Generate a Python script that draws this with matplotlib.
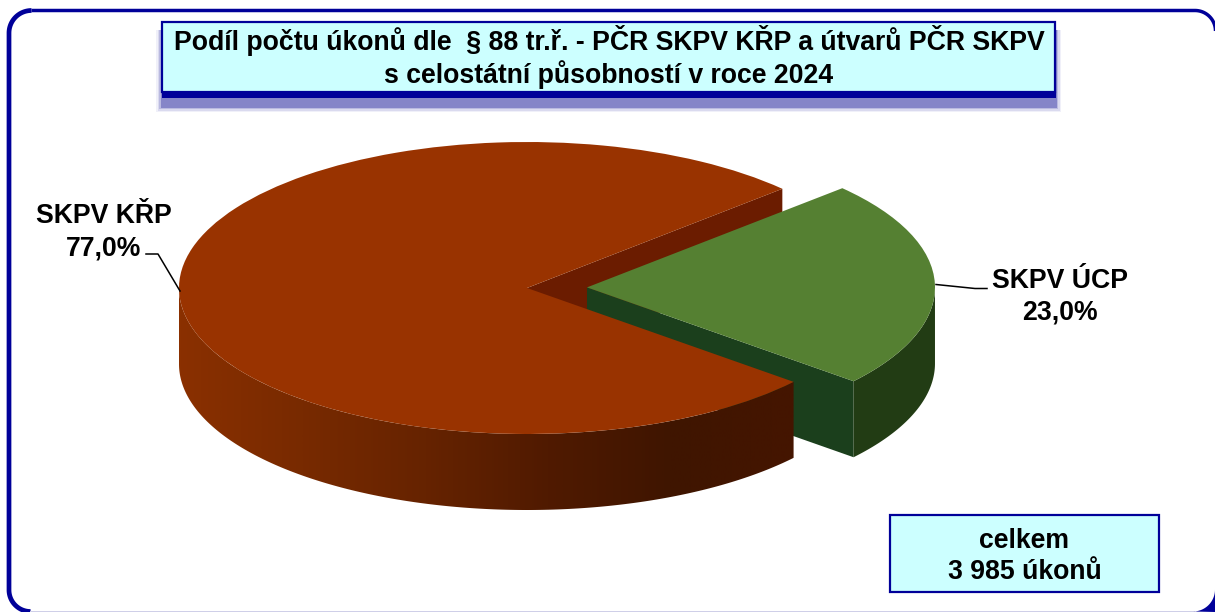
import numpy as np
import matplotlib
matplotlib.use("Agg")
import matplotlib.pyplot as plt
from matplotlib.patches import Polygon, Rectangle
from matplotlib.colors import LinearSegmentedColormap

plt.rcParams['font.family'] = ['Liberation Sans', 'DejaVu Sans']

# ---- data ----
categories = ["SKPV ÚCP", "SKPV KŘP"]
shares = [23.0, 77.0]
share_labels = ["23,0%", "77,0%"]
title_lines = ["Podíl počtu úkonů dle  § 88 tr.ř. - PČR SKPV KŘP a útvarů PČR SKPV",
               "s celostátní působností v roce 2024"]
total_lines = ["celkem", "3 985 úkonů"]

W, H = 1215, 612
NAVY = "#000099"
CYAN = "#CCFFFF"
FS = 19.2

# ---- pie geometry (pixels) ----
cx, cy, rx, ry, depth_px, explode_px = 527, 288, 348, 146, 76, 60
start_angle = -40

fig = plt.figure(figsize=(W / 100, H / 100), dpi=100, facecolor="white")
ax = fig.add_axes([0, 0, 1, 1])
wedges, _ = ax.pie(shares, startangle=start_angle, radius=1,
                   explode=[explode_px / rx, 0],
                   colors=["#558032", "#993300"],
                   wedgeprops=dict(linewidth=0))
ax.set_aspect("auto")
ax.axis("off")

depth = depth_px / ry
green, red = wedges
green.set_zorder(5)
red.set_zorder(7)
gc = np.array(green.center)
rc = np.array(red.center)


def rim(center, a1, a2, n=200):
    t = np.radians(np.linspace(a1, a2, n))
    return np.column_stack([center[0] + np.cos(t), center[1] + np.sin(t)])


def wall(center, a1, a2):
    top = rim(center, a1, a2)
    bottom = top - [0, depth]
    return np.vstack([top, bottom[::-1]])


def cut_face(center, a):
    c = np.array(center)
    p = rim(center, a, a, 1)[0]
    return np.array([c, p, p - [0, depth], c - [0, depth]])


# cut faces
ax.add_patch(Polygon(cut_face(rc, green.theta2), closed=True, fc="#6B1C00", ec="none", zorder=1))
ax.add_patch(Polygon(cut_face(gc, green.theta1), closed=True, fc="#1B3F1C", ec="none", zorder=2))
# green outer wall
ax.add_patch(Polygon(wall(gc, green.theta1, 0), closed=True, fc="#223C14", ec="none", zorder=3))

# red outer wall with horizontal gradient, clipped to the wall outline
red_wall = Polygon(wall(rc, 180, green.theta1 + 360), closed=True, fc="none", ec="none",
                   transform=ax.transData)
ax.add_patch(red_wall)
cmap = LinearSegmentedColormap.from_list("wall", ["#8A3000", "#782A00", "#662300", "#501A00", "#3F1500", "#451500"])
grad = np.linspace(0, 1, 512).reshape(1, -1)
im = ax.imshow(grad, cmap=cmap, aspect="auto", zorder=6, interpolation="bilinear",
               extent=(rc[0] - 1, rc[0] + np.cos(np.radians(green.theta1)), rc[1] - 2, rc[1] + 1))
im.set_clip_path(red_wall)
ax.set_xlim(-cx / rx, (W - cx) / rx)
ax.set_ylim((cy - H) / ry, cy / ry)
ax.set_aspect("auto")

# ---- overlay in pixel coordinates ----
ov = fig.add_axes([0, 0, 1, 1], facecolor="none")
ov.set_xlim(0, W)
ov.set_ylim(H, 0)
ov.axis("off")


def arc(xc, yc, r, a1, a2, n=40):
    t = np.radians(np.linspace(a1, a2, n))
    return xc + r * np.cos(t), yc + r * np.sin(t)


# outer rounded frame, its right and bottom sides lie outside the picture
tlx, tly = arc(31.5, 33, 22.5, 180, 270)     # top left
trx, try_ = arc(1195, 31, 20.5, 270, 360)    # top right
blx, bly = arc(30.5, 590, 21.5, 90, 180)     # bottom left
ov.plot(np.r_[blx, tlx], np.r_[bly, tly], color=NAVY, lw=3.4, solid_capstyle="butt",
        solid_joinstyle="round", zorder=1)
ov.plot(np.r_[tlx[-1], trx], np.r_[tly[-1], try_], color=NAVY, lw=2.5, solid_capstyle="butt",
        solid_joinstyle="round", zorder=1)
ov.add_patch(Rectangle((30, 611), 1165, 1, fc="#CFCFE8", ec="none", zorder=1))
# bottom right corner: solid outside of the curve
bx, by = arc(1193, 589.5, 22, 90, 0)
ov.add_patch(Polygon(np.column_stack([np.r_[bx, 1215], np.r_[by, 612]]), closed=True,
                     fc=NAVY, ec="none", zorder=1))

# title box with blurred shadow
bx0, by0, bx1, by1 = 162, 22, 1055, 92
for grow, col in [(7, "#F0F0F9"), (5.5, "#DADAEF"), (4, "#BABAE0"), (2.5, "#8585C8")]:
    ov.add_patch(Rectangle((bx0 - grow + 1, by0 + 8), bx1 - bx0 + 2 * grow - 1 - 1, by1 - by0 + 5 + grow,
                           fc=col, ec="none", zorder=2))
ov.add_patch(Rectangle((bx0, by1 - 5), bx1 - bx0 + 1, 11, fc=NAVY, ec="none", zorder=3))
ov.add_patch(Rectangle((bx0, by0), bx1 - bx0, by1 - by0, fc=CYAN, ec=NAVY, lw=1.6, zorder=4))
ov.text((bx0 + bx1) / 2 + 0.5, 50, title_lines[0], ha="center", va="baseline", fontsize=FS,
        fontweight="bold", color="black", zorder=5)
ov.text((bx0 + bx1) / 2 + 0.5, 83, title_lines[1], ha="center", va="baseline", fontsize=FS,
        fontweight="bold", color="black", zorder=5)

# total box
ov.add_patch(Rectangle((890, 515), 269, 77, fc=CYAN, ec=NAVY, lw=1.6, zorder=4))
ov.text(1024.5, 548, total_lines[0], ha="center", va="baseline", fontsize=FS, fontweight="bold", zorder=5)
ov.text(1024.5, 579, total_lines[1], ha="center", va="baseline", fontsize=FS, fontweight="bold", zorder=5)

# data labels
ov.text(103.5, 223, categories[1], ha="center", va="baseline", fontsize=FS, fontweight="bold")
ov.text(103.5, 255, share_labels[1], ha="center", va="baseline", fontsize=FS, fontweight="bold")
ov.text(1059.5, 288, categories[0], ha="center", va="baseline", fontsize=FS, fontweight="bold")
ov.text(1059.5, 319, share_labels[0], ha="center", va="baseline", fontsize=FS, fontweight="bold")

# leader lines
ov.plot([146, 158, 180], [254, 254, 291], color="black", lw=1.1, zorder=6)
ov.plot([936, 975, 987], [284.5, 288.5, 288.5], color="black", lw=1.1, zorder=6)

fig.savefig("out.png", dpi=100, facecolor="white")
